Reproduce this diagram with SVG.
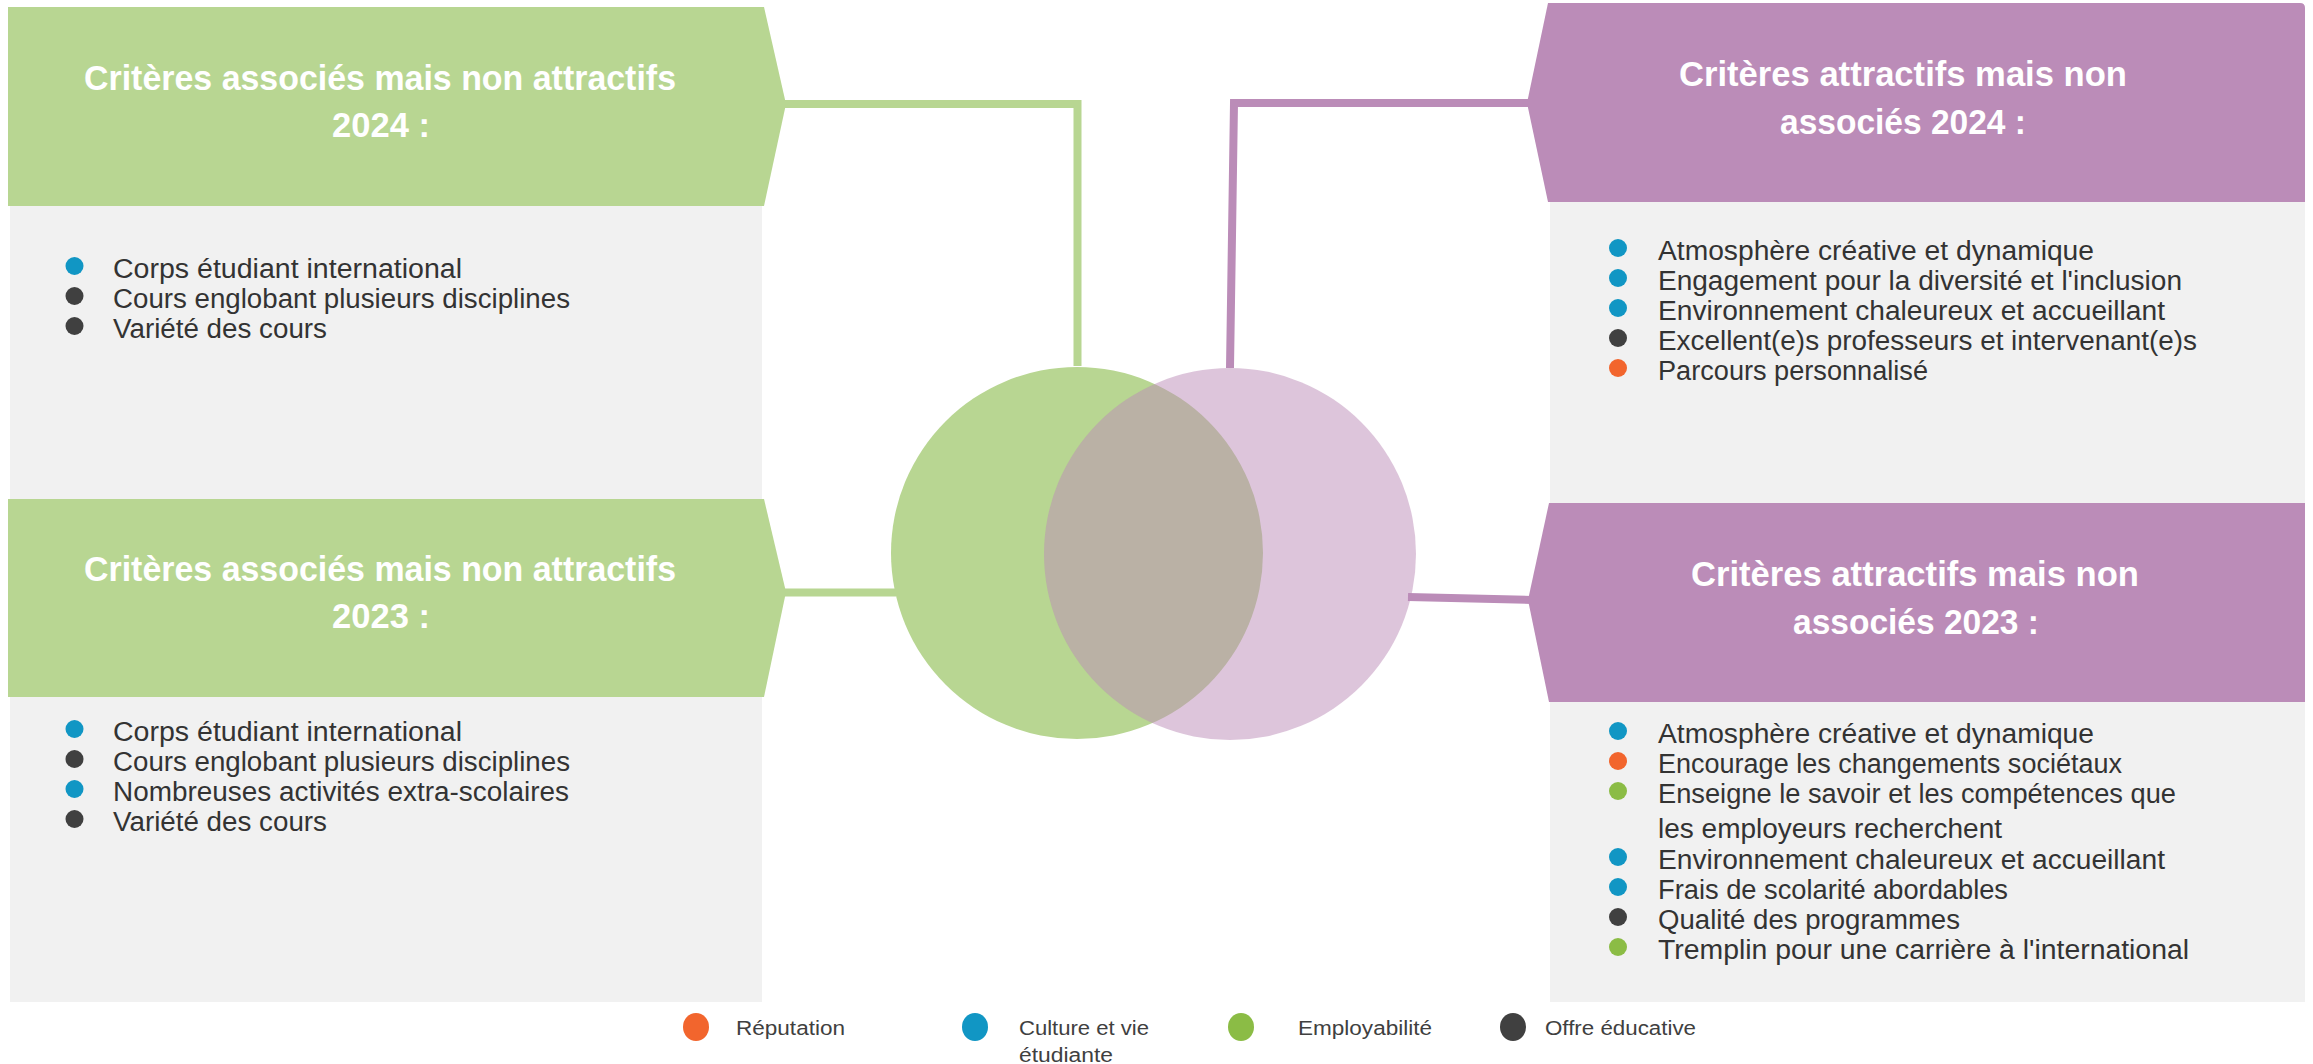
<svg xmlns="http://www.w3.org/2000/svg" width="2313" height="1064" viewBox="0 0 2313 1064">
<style>
.bg{fill:#ffffff}
.hg{fill:#B8D692}
.hp{fill:#BB8CB8}
.box{fill:#F1F1F1}
.ht{font-family:"Liberation Sans",Arial,sans-serif;font-weight:bold;font-size:35px;fill:#ffffff}
.t{font-family:"Liberation Sans",Arial,sans-serif;font-size:27px;fill:#333333}
.lt{font-family:"Liberation Sans",Arial,sans-serif;font-size:20px;fill:#404040}
.cb{fill:#1196C4}.cd{fill:#404040}.co{fill:#F2652D}.cg{fill:#8BBC45}
.cg2{fill:none;stroke:#B8D692;stroke-width:8}
.cp2{fill:none;stroke:#BB8CB8;stroke-width:8}
</style>
<rect class="bg" x="0" y="0" width="2313" height="1064"/>

<g id="venn">
<circle cx="1077" cy="553" r="186" fill="#B8D692"/>
<circle cx="1230" cy="554" r="186" fill="#BB8CB8" fill-opacity="0.5"/>
</g>

<g id="connectors">
<polyline class="cg2" points="780,104 1077.5,104 1077.5,366"/>
<polyline class="cp2" points="1532,103 1234,103 1230,368"/>
<line class="cg2" x1="780" y1="592.5" x2="896" y2="592.5" stroke-width="7"/>
<line class="cp2" x1="1408" y1="597" x2="1532" y2="600"/>
</g>

<g id="node-associes-2024">
<rect class="box" x="10" y="206" width="752" height="293"/>
<polygon class="hg" points="8,7 764,7 786,104 764,206 8,206"/>
<text class="ht" x="84" y="90" textLength="592" lengthAdjust="spacingAndGlyphs">Critères associés mais non attractifs</text>
<text class="ht" x="332" y="137" textLength="98" lengthAdjust="spacingAndGlyphs">2024 :</text>
<circle class="cb" cx="74.5" cy="266" r="9"/>
<circle class="cd" cx="74.5" cy="296" r="9"/>
<circle class="cd" cx="74.5" cy="326" r="9"/>
<text class="t" x="113" y="278" textLength="349" lengthAdjust="spacingAndGlyphs">Corps étudiant international</text>
<text class="t" x="113" y="308" textLength="457" lengthAdjust="spacingAndGlyphs">Cours englobant plusieurs disciplines</text>
<text class="t" x="113" y="338" textLength="214" lengthAdjust="spacingAndGlyphs">Variété des cours</text>
</g>

<g id="node-associes-2023">
<rect class="box" x="10" y="697" width="752" height="305"/>
<polygon class="hg" points="8,499 764,499 786,592 764,697 8,697"/>
<text class="ht" x="84" y="581" textLength="592" lengthAdjust="spacingAndGlyphs">Critères associés mais non attractifs</text>
<text class="ht" x="332" y="628" textLength="98" lengthAdjust="spacingAndGlyphs">2023 :</text>
<circle class="cb" cx="74.5" cy="729" r="9"/>
<circle class="cd" cx="74.5" cy="759" r="9"/>
<circle class="cb" cx="74.5" cy="789" r="9"/>
<circle class="cd" cx="74.5" cy="819" r="9"/>
<text class="t" x="113" y="741" textLength="349" lengthAdjust="spacingAndGlyphs">Corps étudiant international</text>
<text class="t" x="113" y="771" textLength="457" lengthAdjust="spacingAndGlyphs">Cours englobant plusieurs disciplines</text>
<text class="t" x="113" y="801" textLength="456" lengthAdjust="spacingAndGlyphs">Nombreuses activités extra-scolaires</text>
<text class="t" x="113" y="831" textLength="214" lengthAdjust="spacingAndGlyphs">Variété des cours</text>
</g>

<g id="node-attractifs-2024">
<rect class="box" x="1550" y="202" width="755" height="301"/>
<path class="hp" d="M1548,3 H2300 Q2305,3 2305,8 V202 H1548 L1527,103 Z"/>
<text class="ht" x="1679" y="86" textLength="448" lengthAdjust="spacingAndGlyphs">Critères attractifs mais non</text>
<text class="ht" x="1780" y="134" textLength="246" lengthAdjust="spacingAndGlyphs">associés 2024 :</text>
<circle class="cb" cx="1618" cy="248" r="9"/>
<circle class="cb" cx="1618" cy="278" r="9"/>
<circle class="cb" cx="1618" cy="308" r="9"/>
<circle class="cd" cx="1618" cy="338" r="9"/>
<circle class="co" cx="1618" cy="368" r="9"/>
<text class="t" x="1658" y="260" textLength="436" lengthAdjust="spacingAndGlyphs">Atmosphère créative et dynamique</text>
<text class="t" x="1658" y="290" textLength="524" lengthAdjust="spacingAndGlyphs">Engagement pour la diversité et l'inclusion</text>
<text class="t" x="1658" y="320" textLength="507" lengthAdjust="spacingAndGlyphs">Environnement chaleureux et accueillant</text>
<text class="t" x="1658" y="350" textLength="539" lengthAdjust="spacingAndGlyphs">Excellent(e)s professeurs et intervenant(e)s</text>
<text class="t" x="1658" y="380" textLength="270" lengthAdjust="spacingAndGlyphs">Parcours personnalisé</text>
</g>

<g id="node-attractifs-2023">
<rect class="box" x="1550" y="702" width="755" height="300"/>
<path class="hp" d="M1549,503 H2305 V702 H1549 L1528,600 Z"/>
<text class="ht" x="1691" y="586" textLength="448" lengthAdjust="spacingAndGlyphs">Critères attractifs mais non</text>
<text class="ht" x="1793" y="634" textLength="246" lengthAdjust="spacingAndGlyphs">associés 2023 :</text>
<circle class="cb" cx="1618" cy="731" r="9"/>
<circle class="co" cx="1618" cy="761" r="9"/>
<circle class="cg" cx="1618" cy="791" r="9"/>
<circle class="cb" cx="1618" cy="857" r="9"/>
<circle class="cb" cx="1618" cy="887" r="9"/>
<circle class="cd" cx="1618" cy="917" r="9"/>
<circle class="cg" cx="1618" cy="947" r="9"/>
<text class="t" x="1658" y="743" textLength="436" lengthAdjust="spacingAndGlyphs">Atmosphère créative et dynamique</text>
<text class="t" x="1658" y="773" textLength="464" lengthAdjust="spacingAndGlyphs">Encourage les changements sociétaux</text>
<text class="t" x="1658" y="803" textLength="518" lengthAdjust="spacingAndGlyphs">Enseigne le savoir et les compétences que</text>
<text class="t" x="1658" y="838" textLength="344" lengthAdjust="spacingAndGlyphs">les employeurs recherchent</text>
<text class="t" x="1658" y="869" textLength="507" lengthAdjust="spacingAndGlyphs">Environnement chaleureux et accueillant</text>
<text class="t" x="1658" y="899" textLength="350" lengthAdjust="spacingAndGlyphs">Frais de scolarité abordables</text>
<text class="t" x="1658" y="929" textLength="302" lengthAdjust="spacingAndGlyphs">Qualité des programmes</text>
<text class="t" x="1658" y="959" textLength="531" lengthAdjust="spacingAndGlyphs">Tremplin pour une carrière à l'international</text>
</g>

<g id="legend">
<ellipse class="co" cx="696" cy="1027" rx="13" ry="14"/>
<text class="lt" x="736" y="1035" textLength="109" lengthAdjust="spacingAndGlyphs">Réputation</text>
<ellipse class="cb" cx="975" cy="1027" rx="13" ry="14"/>
<text class="lt" x="1019" y="1035" textLength="130" lengthAdjust="spacingAndGlyphs">Culture et vie</text>
<text class="lt" x="1019" y="1062" textLength="94" lengthAdjust="spacingAndGlyphs">étudiante</text>
<ellipse class="cg" cx="1241" cy="1027" rx="13" ry="14"/>
<text class="lt" x="1298" y="1035" textLength="134" lengthAdjust="spacingAndGlyphs">Employabilité</text>
<ellipse class="cd" cx="1513" cy="1027" rx="13" ry="14"/>
<text class="lt" x="1545" y="1035" textLength="151" lengthAdjust="spacingAndGlyphs">Offre éducative</text>
</g>
</svg>
